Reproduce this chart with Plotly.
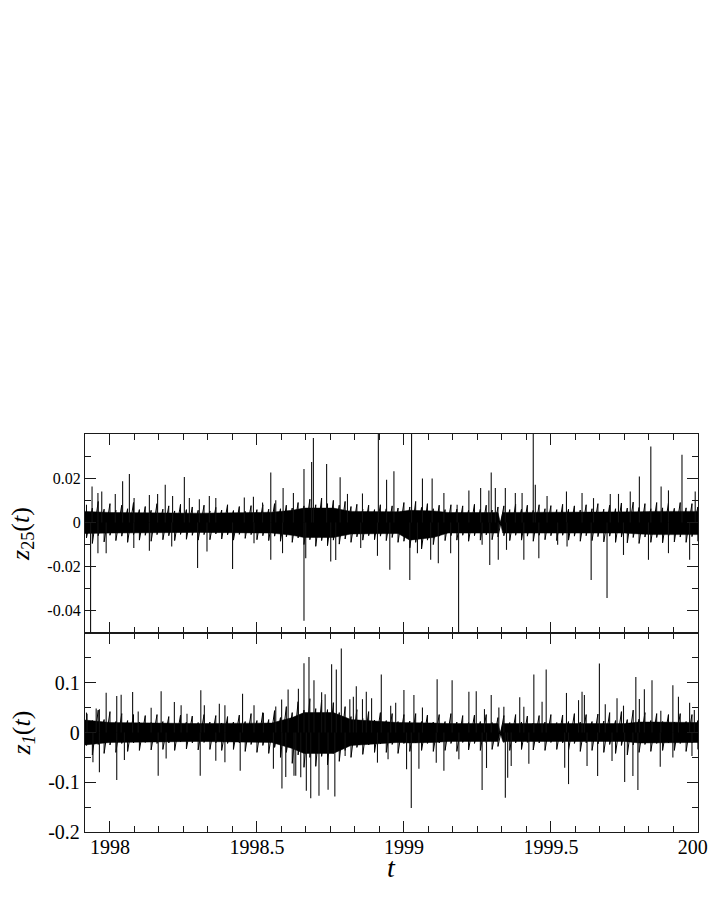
import plotly.graph_objects as go

# ---------------- data ----------------
# sampling grid of the dense-noise fringe (years); 1999.33 is the short data gap
env_t = [1997.92, 1997.94, 1997.96, 1997.98, 1998.00, 1998.02, 1998.04, 1998.06, 1998.08, 1998.10,
         1998.12, 1998.14, 1998.16, 1998.18, 1998.20, 1998.22, 1998.24, 1998.26, 1998.28, 1998.30,
         1998.32, 1998.34, 1998.36, 1998.38, 1998.40, 1998.42, 1998.44, 1998.46, 1998.48, 1998.50,
         1998.52, 1998.54, 1998.56, 1998.58, 1998.60, 1998.62, 1998.64, 1998.66, 1998.68, 1998.70,
         1998.72, 1998.74, 1998.76, 1998.78, 1998.80, 1998.82, 1998.84, 1998.86, 1998.88, 1998.90,
         1998.92, 1998.94, 1998.96, 1998.98, 1999.00, 1999.02, 1999.04, 1999.06, 1999.08, 1999.10,
         1999.12, 1999.14, 1999.16, 1999.18, 1999.20, 1999.22, 1999.24, 1999.26, 1999.28, 1999.30,
         1999.32, 1999.33,
         1999.34, 1999.36, 1999.38, 1999.40, 1999.42, 1999.44, 1999.46, 1999.48, 1999.50,
         1999.52, 1999.54, 1999.56, 1999.58, 1999.60, 1999.62, 1999.64, 1999.66, 1999.68, 1999.70,
         1999.72, 1999.74, 1999.76, 1999.78, 1999.80, 1999.82, 1999.84, 1999.86, 1999.88, 1999.90,
         1999.92, 1999.94, 1999.96, 1999.98, 2000.00]

z25_upper = [0.0080, 0.0065, 0.0095, 0.0060, 0.0085, 0.0055, 0.0078, 0.0062, 0.0090, 0.0058,
             0.0072, 0.0055, 0.0085, 0.0060, 0.0075, 0.0052, 0.0082, 0.0058, 0.0070, 0.0055,
             0.0078, 0.0052, 0.0068, 0.0056, 0.0080, 0.0054, 0.0072, 0.0050, 0.0076, 0.0058,
             0.0080, 0.0060, 0.0085, 0.0062, 0.0078, 0.0065, 0.0090, 0.0075, 0.0105, 0.0080,
             0.0110, 0.0085, 0.0100, 0.0078, 0.0095, 0.0072, 0.0082, 0.0060, 0.0078, 0.0058,
             0.0080, 0.0062, 0.0075, 0.0065, 0.0090, 0.0070, 0.0095, 0.0068, 0.0085, 0.0062,
             0.0078, 0.0058, 0.0080, 0.0060, 0.0075, 0.0055, 0.0082, 0.0060, 0.0078, 0.0056,
             0.0070, 0.0000,
             0.0075, 0.0058, 0.0082, 0.0060, 0.0078, 0.0055, 0.0080, 0.0062, 0.0076,
             0.0058, 0.0082, 0.0060, 0.0075, 0.0056, 0.0080, 0.0062, 0.0085, 0.0060, 0.0078,
             0.0062, 0.0088, 0.0065, 0.0092, 0.0068, 0.0085, 0.0062, 0.0090, 0.0066, 0.0088,
             0.0064, 0.0090, 0.0066, 0.0085, 0.0070]
z25_lower = [-0.0070, -0.0095, -0.0060, -0.0088, -0.0058, -0.0082, -0.0062, -0.0090, -0.0056, -0.0080,
             -0.0058, -0.0085, -0.0055, -0.0078, -0.0060, -0.0082, -0.0054, -0.0076, -0.0058, -0.0080,
             -0.0055, -0.0078, -0.0052, -0.0075, -0.0056, -0.0080, -0.0054, -0.0072, -0.0055, -0.0078,
             -0.0060, -0.0082, -0.0062, -0.0085, -0.0065, -0.0090, -0.0070, -0.0100, -0.0078, -0.0108,
             -0.0082, -0.0105, -0.0080, -0.0098, -0.0075, -0.0090, -0.0065, -0.0080, -0.0060, -0.0078,
             -0.0062, -0.0082, -0.0068, -0.0090, -0.0085, -0.0115, -0.0090, -0.0120, -0.0080, -0.0100,
             -0.0062, -0.0082, -0.0060, -0.0080, -0.0058, -0.0085, -0.0060, -0.0080, -0.0056, -0.0078,
             -0.0065, 0.0000,
             -0.0060, -0.0082, -0.0058, -0.0080, -0.0062, -0.0085, -0.0058, -0.0078, -0.0060,
             -0.0082, -0.0058, -0.0080, -0.0062, -0.0085, -0.0060, -0.0082, -0.0064, -0.0088, -0.0062,
             -0.0090, -0.0066, -0.0092, -0.0068, -0.0095, -0.0066, -0.0090, -0.0068, -0.0092, -0.0064,
             -0.0088, -0.0066, -0.0090, -0.0064, -0.0085]

# solid core of the noise band
core_t = [1997.915, 1998.0, 1998.3, 1998.55, 1998.62, 1998.66, 1998.76, 1998.82, 1998.98, 1999.02,
          1999.1, 1999.15, 1999.32, 1999.328, 1999.336, 1999.75, 1999.8, 1999.85, 2000.0005]
z25_core_up = [0.0050, 0.0045, 0.0042, 0.0046, 0.0055, 0.0065, 0.0065, 0.0050, 0.0048, 0.0055,
               0.0052, 0.0045, 0.0045, 0.0, 0.0045, 0.0045, 0.0048, 0.0050, 0.0050]
z25_core_lo = [-0.0050, -0.0048, -0.0045, -0.0048, -0.0058, -0.0068, -0.0068, -0.0052, -0.0050, -0.0080,
               -0.0068, -0.0048, -0.0048, 0.0, -0.0048, -0.0048, -0.0052, -0.0055, -0.0055]
z1_core_up = [0.025, 0.020, 0.018, 0.019, 0.030, 0.040, 0.040, 0.026, 0.020, 0.020,
              0.019, 0.018, 0.018, 0.0, 0.018, 0.018, 0.021, 0.021, 0.020]
z1_core_lo = [-0.025, -0.020, -0.018, -0.020, -0.032, -0.042, -0.042, -0.026, -0.020, -0.021,
              -0.020, -0.018, -0.018, 0.0, -0.018, -0.018, -0.021, -0.021, -0.020]

# isolated spikes, top panel z_25
z25_spike_t = [1997.934, 1997.939, 1997.959, 1997.959, 1997.972, 1997.987, 1998.018, 1998.043,
               1998.066, 1998.081, 1998.082, 1998.134, 1998.134, 1998.162, 1998.188, 1998.210,
               1998.213, 1998.253, 1998.270, 1998.298, 1998.304, 1998.330, 1998.338, 1998.360,
               1998.417, 1998.457, 1998.488, 1998.490, 1998.519, 1998.547, 1998.547, 1998.564,
               1998.587, 1998.589, 1998.624, 1998.660, 1998.660, 1998.666, 1998.686, 1998.692,
               1998.737, 1998.751, 1998.768, 1998.783, 1998.808, 1998.853, 1998.859, 1998.910,
               1998.913, 1998.941, 1998.952, 1998.966, 1999.020, 1999.026, 1999.046, 1999.063,
               1999.091, 1999.096, 1999.117, 1999.136, 1999.159, 1999.181, 1999.186, 1999.221,
               1999.261, 1999.266, 1999.289, 1999.292, 1999.297, 1999.311, 1999.321, 1999.345,
               1999.349, 1999.379, 1999.402, 1999.408, 1999.440, 1999.447, 1999.459, 1999.487,
               1999.523, 1999.553, 1999.555, 1999.606, 1999.637, 1999.645, 1999.691, 1999.702,
               1999.730, 1999.747, 1999.770, 1999.801, 1999.832, 1999.840, 1999.875, 1999.900,
               1999.900, 1999.946, 1999.972, 1999.991]
z25_spike_v = [-0.060, 0.0163, 0.0133, -0.0139, 0.0140, -0.0139, 0.0129, 0.0186,
               0.0219, -0.0116, 0.0110, 0.0124, -0.0128, 0.0129, 0.0171, -0.0109,
               0.0120, 0.0205, 0.0110, -0.0206, 0.0105, -0.0131, 0.0120, 0.0110,
               -0.0210, 0.0113, 0.0116, -0.0094, 0.0090, 0.0226, -0.0169, 0.0100,
               -0.0139, 0.0156, 0.0133, 0.0242, -0.0445, -0.0162, 0.0273, 0.0382,
               0.0264, -0.0177, -0.0170, 0.0204, 0.0129, -0.0116, 0.0131, -0.0151,
               0.0450, 0.0193, -0.0214, 0.0231, -0.0260, 0.0450, -0.0139, 0.0199,
               -0.0169, 0.0199, -0.0184, 0.0133, -0.0139, 0.0080, -0.0600, 0.0145,
               0.0156, -0.0101, 0.0145, -0.0192, 0.0226, 0.0156, -0.0169, 0.0156,
               -0.0124, 0.0133, 0.0133, -0.0169, 0.0450, 0.0171, -0.0162, 0.0120,
               -0.0101, 0.0140, -0.0109, 0.0133, -0.0260, 0.0110, -0.0342, 0.0129,
               0.0129, -0.0147, 0.0140, 0.0208, -0.0169, 0.0344, 0.0163, 0.0145,
               -0.0139, 0.0306, -0.0169, 0.0140]

z1_upper = [0.040, 0.024, 0.045, 0.026, 0.042, 0.022, 0.038, 0.024, 0.036, 0.021,
            0.034, 0.020, 0.036, 0.022, 0.032, 0.019, 0.035, 0.021, 0.033, 0.020,
            0.036, 0.021, 0.034, 0.019, 0.032, 0.021, 0.035, 0.022, 0.038, 0.024,
            0.040, 0.026, 0.044, 0.030, 0.052, 0.040, 0.062, 0.045, 0.068, 0.048,
            0.065, 0.046, 0.060, 0.040, 0.052, 0.032, 0.046, 0.028, 0.042, 0.025,
            0.040, 0.024, 0.038, 0.022, 0.036, 0.023, 0.038, 0.022, 0.035, 0.021,
            0.036, 0.022, 0.038, 0.021, 0.034, 0.020, 0.035, 0.022, 0.036, 0.020,
            0.030, 0.000,
            0.034, 0.020, 0.036, 0.021, 0.033, 0.019, 0.034, 0.021, 0.036,
            0.020, 0.035, 0.022, 0.038, 0.021, 0.036, 0.022, 0.037, 0.023, 0.040,
            0.024, 0.042, 0.026, 0.045, 0.027, 0.040, 0.024, 0.038, 0.022, 0.036,
            0.021, 0.038, 0.022, 0.036, 0.024]
z1_lower = [-0.026, -0.045, -0.024, -0.042, -0.025, -0.040, -0.022, -0.038, -0.021, -0.036,
            -0.020, -0.035, -0.022, -0.034, -0.021, -0.036, -0.019, -0.033, -0.021, -0.035,
            -0.020, -0.034, -0.021, -0.036, -0.022, -0.034, -0.021, -0.038, -0.024, -0.040,
            -0.026, -0.042, -0.030, -0.050, -0.040, -0.062, -0.045, -0.070, -0.050, -0.068,
            -0.048, -0.065, -0.042, -0.058, -0.036, -0.050, -0.030, -0.044, -0.025, -0.040,
            -0.023, -0.040, -0.024, -0.042, -0.022, -0.038, -0.021, -0.036, -0.022, -0.038,
            -0.021, -0.036, -0.022, -0.038, -0.020, -0.035, -0.022, -0.036, -0.021, -0.034,
            -0.028, 0.000,
            -0.020, -0.036, -0.021, -0.034, -0.020, -0.035, -0.021, -0.036, -0.020,
            -0.034, -0.021, -0.036, -0.022, -0.038, -0.021, -0.036, -0.023, -0.040, -0.024,
            -0.042, -0.026, -0.045, -0.025, -0.040, -0.024, -0.038, -0.022, -0.036, -0.021,
            -0.036, -0.022, -0.038, -0.021, -0.034]

# isolated spikes, bottom panel z_1
z1_spike_t = [1997.922, 1997.942, 1997.953, 1997.964, 1997.964, 1997.987, 1998.023, 1998.023,
              1998.038, 1998.049, 1998.077, 1998.096, 1998.140, 1998.164, 1998.174, 1998.191,
              1998.219, 1998.242, 1998.262, 1998.307, 1998.309, 1998.321, 1998.360, 1998.372,
              1998.391, 1998.391, 1998.443, 1998.451, 1998.490, 1998.522, 1998.556, 1998.564,
              1998.584, 1998.585, 1998.598, 1998.606, 1998.626, 1998.632, 1998.641, 1998.649,
              1998.660, 1998.668, 1998.677, 1998.683, 1998.694, 1998.711, 1998.720, 1998.732,
              1998.742, 1998.754, 1998.765, 1998.770, 1998.787, 1998.800, 1998.816, 1998.828,
              1998.838, 1998.859, 1998.872, 1998.890, 1998.910, 1998.923, 1998.946, 1998.955,
              1998.972, 1999.000, 1999.009, 1999.025, 1999.034, 1999.051, 1999.063, 1999.110,
              1999.113, 1999.136, 1999.164, 1999.187, 1999.221, 1999.246, 1999.266, 1999.274,
              1999.281, 1999.297, 1999.323, 1999.340, 1999.345, 1999.353, 1999.365, 1999.394,
              1999.408, 1999.425, 1999.442, 1999.470, 1999.484, 1999.547, 1999.553, 1999.560,
              1999.594, 1999.606, 1999.614, 1999.623, 1999.659, 1999.665, 1999.685, 1999.708,
              1999.725, 1999.747, 1999.751, 1999.779, 1999.789, 1999.796, 1999.801, 1999.818,
              1999.844, 1999.872, 1999.874, 1999.915, 1999.915, 1999.934, 1999.972, 1999.980,
              1999.988]
z1_spike_v = [0.0377, -0.060, 0.048, 0.0465, -0.080, 0.080, 0.0733, -0.0956,
              0.076, -0.0555, 0.0815, 0.042, 0.050, -0.0869, 0.0828, -0.0525,
              0.0612, 0.055, 0.0377, -0.0869, 0.0848, 0.055, -0.057, 0.058,
              0.055, -0.060, -0.0768, 0.078, 0.055, 0.039, -0.073, 0.0525,
              0.0662, -0.1125, -0.0895, 0.0862, -0.0869, -0.087, 0.088, -0.090,
              0.139, -0.117, 0.152, -0.132, 0.105, -0.127, 0.081, 0.077,
              -0.115, 0.137, -0.1287, 0.1266, 0.169, -0.047, 0.067, 0.0717,
              0.0929, 0.067, 0.082, 0.0687, -0.0606, 0.1165, -0.054, 0.054,
              0.060, 0.0855, -0.074, -0.152, 0.0754, -0.0727, 0.0505, -0.0606,
              0.107, -0.0768, 0.105, -0.054, 0.082, 0.0828, -0.1157, 0.047,
              -0.0714, 0.0754, 0.0505, 0.0518, -0.131, -0.091, -0.0673, 0.0707,
              0.0518, -0.0626, 0.1165, 0.062, 0.1266, -0.0707, 0.0795, -0.1037,
              0.065, 0.082, 0.0754, -0.0673, -0.0875, 0.1387, 0.057, -0.0573,
              0.0687, 0.054, -0.0996, -0.0875, 0.1117, -0.1157, 0.0673, 0.0868,
              0.105, -0.0687, 0.0437, 0.0949, -0.0505, 0.0717, 0.060, -0.047,
              0.045]

# axis ticks
x_tickvals = [1998, 1998.5, 1999, 1999.5, 2000]
x_ticktext = ["1998", "1998.5", "1999", "1999.5", "2000"]
z25_tickvals = [0.02, 0, -0.02, -0.04]
z25_ticktext = ["0.02", "0", "-0.02", "-0.04"]
z1_tickvals = [0.1, 0, -0.1, -0.2]
z1_ticktext = ["0.1", "0", "-0.1", "-0.2"]

# ---------------- figure ----------------
def spikes(ts, vs):
    xs, ys = [], []
    for t, v in zip(ts, vs):
        xs += [t, t, None]
        ys += [0, v, None]
    return xs, ys

def zigzag(ts, up, lo):
    xs, ys = [], []
    for t, u, l in zip(ts, up, lo):
        xs += [t, t]
        ys += [u, l]
    return xs, ys

fig = go.Figure()
INK = "#000000"

def add_panel(xref, yref, cu, cl, upper, lower, st, sv):
    fig.add_trace(go.Scatter(x=core_t, y=cu, mode="lines", line=dict(width=0.5, color=INK),
                             xaxis=xref, yaxis=yref, showlegend=False, hoverinfo="skip"))
    fig.add_trace(go.Scatter(x=core_t, y=cl, mode="lines", line=dict(width=0.5, color=INK),
                             fill="tonexty", fillcolor=INK,
                             xaxis=xref, yaxis=yref, showlegend=False, hoverinfo="skip"))
    zx, zy = zigzag(env_t, upper, lower)
    fig.add_trace(go.Scatter(x=zx, y=zy, mode="lines", line=dict(width=1.0, color=INK),
                             xaxis=xref, yaxis=yref, showlegend=False, hoverinfo="skip"))
    sx, sy = spikes(st, sv)
    fig.add_trace(go.Scatter(x=sx, y=sy, mode="lines", line=dict(width=1.1, color="#111111"),
                             xaxis=xref, yaxis=yref, showlegend=False, hoverinfo="skip"))

add_panel("x2", "y2", z25_core_up, z25_core_lo, z25_upper, z25_lower, z25_spike_t, z25_spike_v)
add_panel("x", "y", z1_core_up, z1_core_lo, z1_upper, z1_lower, z1_spike_t, z1_spike_v)

SERIF = "Liberation Serif"
AX = "#1a1a1a"
axis_common = dict(showline=True, linecolor=AX, linewidth=1.3, mirror="ticks",
                   ticks="inside", tickcolor=AX, tickwidth=1.1, ticklen=11,
                   showgrid=False, zeroline=False, automargin=False)
minor_common = dict(ticks="inside", ticklen=6, tickwidth=1.1, tickcolor=AX)

fig.update_layout(
    width=708, height=917,
    paper_bgcolor="white", plot_bgcolor="white",
    margin=dict(l=85, r=10, t=434, b=85),
    font=dict(family=SERIF, color="black"),
    showlegend=False,
    xaxis=dict(range=[1997.915, 2000.0005], anchor="y", domain=[0, 1],
               tickmode="array", tickvals=x_tickvals, ticktext=x_ticktext,
               tickfont=dict(size=20, family=SERIF, color="black"),
               ticklabeloverflow="allow", ticklabelstandoff=-3,
               minor=dict(tickmode="linear", tick0=1998, dtick=1/12, **minor_common),
               **axis_common),
    xaxis2=dict(range=[1997.915, 2000.0005], anchor="y2", matches="x", domain=[0, 1],
                tickmode="array", tickvals=x_tickvals, showticklabels=False,
                minor=dict(tickmode="linear", tick0=1998, dtick=1/12, **minor_common),
                **axis_common),
    yaxis=dict(range=[-0.2, 0.2], domain=[0, 0.5], anchor="x",
               tickmode="array", tickvals=z1_tickvals, ticktext=z1_ticktext,
               tickfont=dict(size=20, family=SERIF, color="black"),
               minor=dict(tickmode="linear", tick0=0, dtick=0.05, **minor_common),
               title=dict(text="<i>z</i><sub><i>1</i></sub>(<i>t</i>)",
                          font=dict(size=26, family=SERIF, color="black"), standoff=10),
               **axis_common),
    yaxis2=dict(range=[-0.05, 0.04], domain=[0.5, 1], anchor="x2",
                tickmode="array", tickvals=z25_tickvals, ticktext=z25_ticktext,
                tickfont=dict(size=16, family=SERIF, color="black"),
                minor=dict(tickmode="linear", tick0=0, dtick=0.01, **minor_common),
                title=dict(text="<i>z</i><sub>25</sub>(<i>t</i>)",
                           font=dict(size=26, family=SERIF, color="black"), standoff=10),
                **axis_common),
)

# x-axis title placed just under the tick labels
fig.add_annotation(text="<i>t</i>", x=0.5, y=-0.088, xref="paper", yref="paper",
                   xanchor="center", yanchor="middle", showarrow=False,
                   font=dict(size=28, family=SERIF, color="black"))

fig.write_html("out.html", config={"displayModeBar": False},
               post_script="document.body.style.margin='0px';")
